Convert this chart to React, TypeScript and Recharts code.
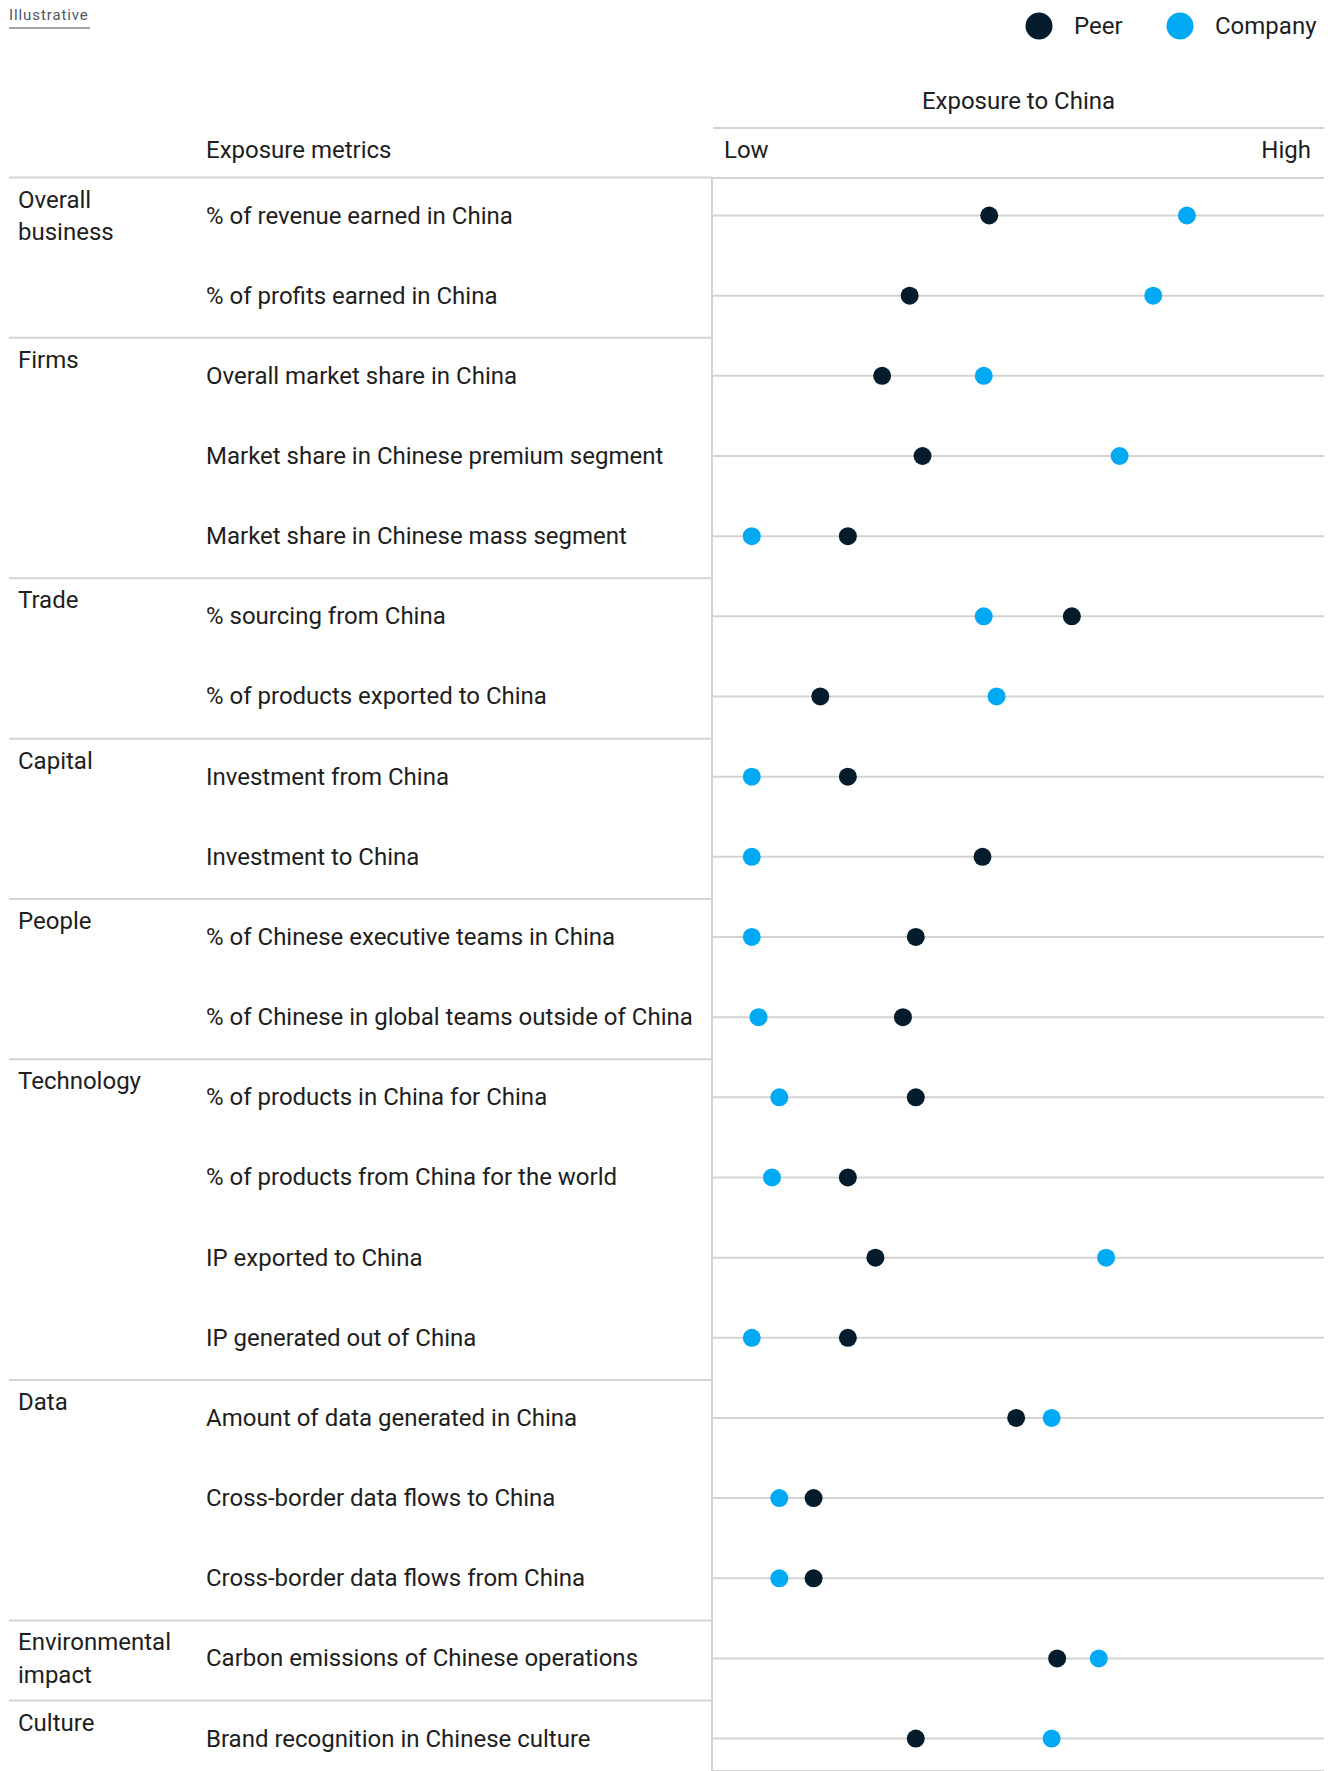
import React from 'react';
import { ScatterChart, Scatter, XAxis, YAxis, CartesianGrid, Legend } from 'recharts';

const metrics: string[] = [
  '% of revenue earned in China',
  '% of profits earned in China',
  'Overall market share in China',
  'Market share in Chinese premium segment',
  'Market share in Chinese mass segment',
  '% sourcing from China',
  '% of products exported to China',
  'Investment from China',
  'Investment to China',
  '% of Chinese executive teams in China',
  '% of Chinese in global teams outside of China',
  '% of products in China for China',
  '% of products from China for the world',
  'IP exported to China',
  'IP generated out of China',
  'Amount of data generated in China',
  'Cross-border data flows to China',
  'Cross-border data flows from China',
  'Carbon emissions of Chinese operations',
  'Brand recognition in Chinese culture',
];

const groupLabels: string[][] = [
  ['Overall', 'business'],
  ['Firms'],
  ['Trade'],
  ['Capital'],
  ['People'],
  ['Technology'],
  ['Data'],
  ['Environmental', 'impact'],
  ['Culture'],
];
const groupStartRows: number[] = [0, 2, 5, 7, 9, 11, 15, 18, 19];

const peerValues: number[] = [45.3, 32.3, 27.8, 34.4, 22.2, 58.8, 17.7, 22.2, 44.2, 33.3, 31.2, 33.3, 22.2, 26.7, 22.2, 49.7, 16.6, 16.6, 56.4, 33.3];
const companyValues: number[] = [77.6, 72.1, 44.4, 66.6, 6.5, 44.4, 46.5, 6.5, 6.5, 6.5, 7.6, 11.0, 9.8, 64.4, 6.5, 55.5, 11.0, 11.0, 63.2, 55.5];

const seriesNames = ['Peer', 'Company'];
const axisTitle = 'Exposure to China';
const lowLabel = 'Low';
const highLabel = 'High';
const metricsHeader = 'Exposure metrics';
const tagText = 'Illustrative';

const PEER = '#051c2c';
const COMPANY = '#00a9f4';
const GRID = '#d3d3d3';
const TEXT = '#1e1e1e';
const FONT = 'Roboto, "Noto Sans", sans-serif';
const FS = 24;

const peerData = metrics.map((m, i) => ({ metric: m, x: peerValues[i], y: i }));
const companyData = metrics.map((m, i) => ({ metric: m, x: companyValues[i], y: i }));
const rowTicks = metrics.map((_, i) => i);

const MetricTick = (props: any) => {
  const { y, payload } = props;
  const i = payload.value as number;
  const gi = groupStartRows.indexOf(i);
  return (
    <g>
      {gi >= 0 && (
        <line x1={9} x2={712} y1={y - 38} y2={y - 38} stroke={GRID} strokeWidth={2} />
      )}
      {gi >= 0 &&
        groupLabels[gi].map((t, k) => (
          <text
            key={k}
            x={18}
            y={y - 16 + k * 32.7}
            dominantBaseline="central"
            fontSize={FS}
            fontFamily={FONT}
            fill={TEXT}
          >
            {t}
          </text>
        ))}
      <text x={206} y={y} dominantBaseline="central" fontSize={FS} fontFamily={FONT} fill={TEXT}>
        {metrics[i]}
      </text>
    </g>
  );
};

const Dot = (color: string) => (props: any) => (
  <circle cx={props.cx} cy={props.cy} r={9} fill={color} />
);

const LegendContent = () => (
  <div style={{ position: 'relative', width: 310, height: 50, fontFamily: FONT }}>
    {[PEER, COMPANY].map((c, k) => (
      <React.Fragment key={k}>
        <svg
          width={28}
          height={28}
          style={{ position: 'absolute', left: k === 0 ? 5 : 146, top: 12 }}
        >
          <circle cx={14} cy={14} r={13.5} fill={c} />
        </svg>
        <div
          style={{
            position: 'absolute',
            left: k === 0 ? 54 : 195,
            top: 11,
            fontSize: FS,
            lineHeight: '30px',
            color: TEXT,
            whiteSpace: 'nowrap',
          }}
        >
          {seriesNames[k]}
        </div>
      </React.Fragment>
    ))}
  </div>
);

export default function App() {
  return (
    <div
      style={{
        position: 'absolute',
        left: 0,
        top: 0,
        width: 1330,
        height: 1771,
        overflow: 'hidden',
        background: '#fff',
        fontFamily: FONT,
        color: TEXT,
      }}
    >
      <div
        style={{
          position: 'absolute',
          left: 9,
          top: 5,
          fontSize: 15,
          letterSpacing: 0.9,
          color: '#4b5968',
          lineHeight: '20px',
          paddingBottom: 2,
          borderBottom: '2px solid #a6a6a6',
          width: 81,
        }}
      >
        {tagText}
      </div>
      <div
        style={{
          position: 'absolute',
          left: 713,
          width: 611,
          top: 86,
          textAlign: 'center',
          fontSize: FS,
          lineHeight: '30px',
        }}
      >
        {axisTitle}
      </div>
      <div style={{ position: 'absolute', left: 713, width: 611, top: 127, height: 2, background: GRID }} />
      <div style={{ position: 'absolute', left: 724, top: 135, fontSize: FS, lineHeight: '30px' }}>{lowLabel}</div>
      <div
        style={{ position: 'absolute', left: 1000, width: 311, textAlign: 'right', top: 135, fontSize: FS, lineHeight: '30px' }}
      >
        {highLabel}
      </div>
      <div style={{ position: 'absolute', left: 206, top: 135, fontSize: FS, lineHeight: '30px' }}>{metricsHeader}</div>

      <ScatterChart width={1330} height={1771} margin={{ top: 178, right: 6, bottom: 0, left: 0 }}>
        <CartesianGrid vertical={false} horizontal stroke={GRID} strokeWidth={2} />
        <XAxis type="number" dataKey="x" domain={[0, 100]} hide />
        <YAxis
          type="number"
          dataKey="y"
          reversed
          domain={[-0.4678, 19.404]}
          ticks={rowTicks}
          interval={0}
          width={712}
          tickLine={false}
          axisLine={{ stroke: GRID, strokeWidth: 2 }}
          tick={<MetricTick />}
        />
        <Legend
          verticalAlign="middle"
          align="center"
          layout="horizontal"
          wrapperStyle={{ top: 0, left: 1020, width: 310, height: 50 }}
          content={<LegendContent />}
        />
        <Scatter name={seriesNames[0]} data={peerData} fill={PEER} shape={Dot(PEER)} isAnimationActive={false} />
        <Scatter name={seriesNames[1]} data={companyData} fill={COMPANY} shape={Dot(COMPANY)} isAnimationActive={false} />
      </ScatterChart>
    </div>
  );
}
